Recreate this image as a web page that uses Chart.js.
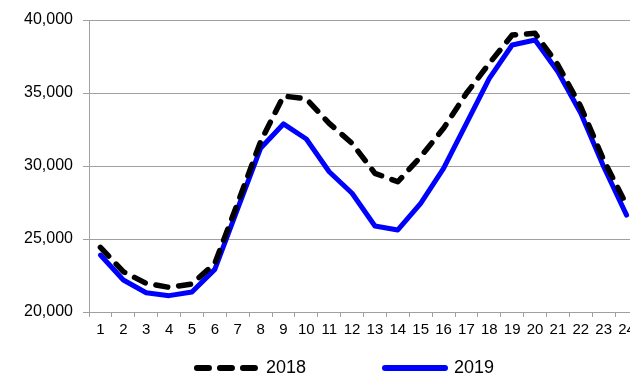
<!DOCTYPE html>
<html>
<head>
<meta charset="utf-8">
<script src="https://cdn.jsdelivr.net/npm/chart.js@4/dist/chart.umd.min.js"></script>
<style>
  html, body { margin: 0; padding: 0; overflow: hidden; background: #fff; width: 630px; height: 376px; }
  canvas { position: absolute; left: 0; top: 0; }
</style>
</head>
<body>
<canvas id="c" width="680" height="387"></canvas>
<script>
const hours = ['1','2','3','4','5','6','7','8','9','10','11','12','13','14','15','16','17','18','19','20','21','22','23','24'];
const series2018 = [24430, 22760, 21960, 21690, 21920, 23330, 27460, 31670, 34790, 34600, 32920, 31550, 29500, 28920, 30640, 32580, 34980, 37030, 38970, 39090, 36920, 34060, 30410, 27330];
const series2019 = [23900, 22190, 21320, 21120, 21370, 22920, 27080, 31210, 32880, 31850, 29610, 28130, 25890, 25620, 27440, 29840, 32920, 36000, 38290, 38630, 36460, 33610, 29950, 26640];
const yMin = 20000, yMax = 40000, yStep = 5000;
const seriesNames = ['2018', '2019'];

const FONT = "'Liberation Sans', Arial, sans-serif";
const GRID = '#a0a0a0';

new Chart(document.getElementById('c'), {
  type: 'line',
  data: {
    labels: hours,
    datasets: [
      {
        label: seriesNames[0],
        data: series2018,
        borderColor: '#000000',
        backgroundColor: '#000000',
        borderWidth: 5.5,
        borderDash: [12, 11],
        borderCapStyle: 'round',
        borderJoinStyle: 'round',
        pointRadius: 0,
        tension: 0,
        fill: false
      },
      {
        label: seriesNames[1],
        data: series2019,
        borderColor: '#0000ff',
        backgroundColor: '#0000ff',
        borderWidth: 5,
        borderCapStyle: 'round',
        borderJoinStyle: 'round',
        pointRadius: 0,
        tension: 0,
        fill: false
      }
    ]
  },
  options: {
    responsive: false,
    animation: false,
    layout: { padding: { left: 13, right: 2, top: 20, bottom: 0 } },
    plugins: {
      tooltip: { enabled: false },
      legend: {
        position: 'bottom',
        labels: {
          usePointStyle: true,
          pointStyle: 'line',
          pointStyleWidth: 60,
          padding: 5,
          color: '#000',
          font: { family: FONT, size: 18 },
          generateLabels: (chart) => {
            const items = Chart.defaults.plugins.legend.labels.generateLabels(chart);
            items.forEach((it, i) => {
              const ds = chart.data.datasets[i];
              it.lineDash = ds.borderDash || [];
              it.lineCap = ds.borderCapStyle || 'butt';
              it.lineWidth = 6;
              it.strokeStyle = ds.borderColor;
            });
            const spacer = {
              text: '',
              fillStyle: 'rgba(0,0,0,0)',
              strokeStyle: 'rgba(0,0,0,0)',
              lineWidth: 0,
              pointStyle: 'line',
              hidden: false,
              datasetIndex: -1
            };
            return [items[0], spacer, items[1]];
          }
        }
      }
    },
    scales: {
      x: {
        type: 'category',
        offset: true,
        grid: {
          offset: true,
          drawOnChartArea: false,
          drawTicks: true,
          tickLength: 5,
          color: GRID,
          lineWidth: 1
        },
        border: { display: true, color: GRID, width: 1 },
        ticks: {
          autoSkip: false,
          maxRotation: 0,
          minRotation: 0,
          padding: 3.5,
          color: '#000',
          font: { family: FONT, size: 15 }
        },
        afterFit: (scale) => { scale.height = 42; }
      },
      y: {
        min: yMin,
        max: yMax,
        grid: {
          color: GRID,
          lineWidth: 1,
          drawTicks: true,
          tickLength: 6
        },
        border: { display: true, color: GRID, width: 1 },
        ticks: {
          stepSize: yStep,
          padding: 10,
          color: '#000',
          font: { family: FONT, size: 16 },
          callback: (v) => Number(v).toLocaleString('en-US')
        },
        afterFit: (scale) => { scale.width = 76; }
      },
      yRightSpace: {
        position: 'right',
        display: true,
        grid: { display: false, drawTicks: false },
        border: { display: false },
        ticks: { display: false },
        afterFit: (scale) => { scale.width = 40; }
      }
    }
  }
});
</script>
</body>
</html>
